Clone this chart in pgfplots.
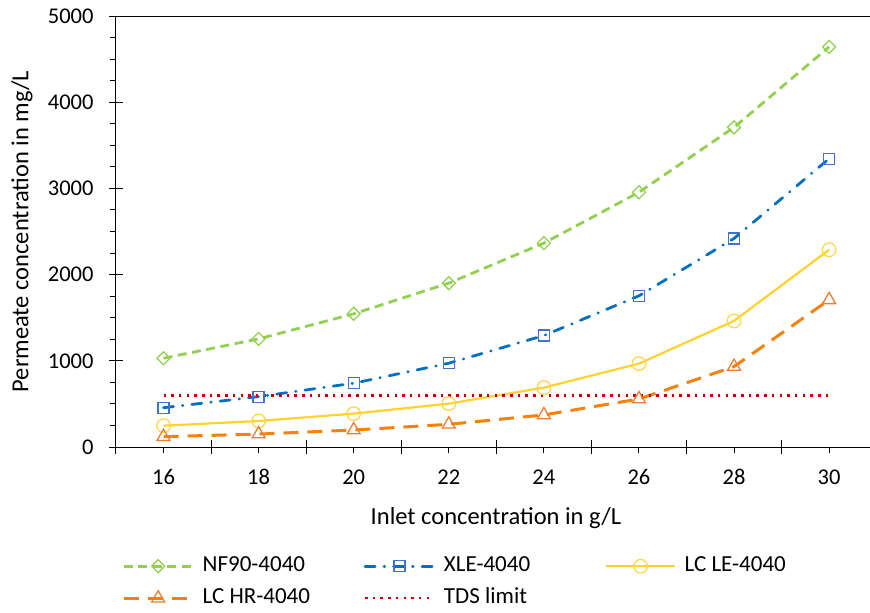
\documentclass[border=0pt]{standalone}
\usepackage{fontspec}
\setmainfont{Carlito}
\usepackage{pgfplots}
\pgfplotsset{compat=1.18}
\definecolor{cgreen}{RGB}{146,208,80}
\definecolor{cblue}{RGB}{0,112,192}
\definecolor{cbluem}{RGB}{68,114,196}
\definecolor{cyel}{RGB}{255,210,45}
\definecolor{cyelm}{RGB}{255,214,80}
\definecolor{corg}{RGB}{245,130,10}
\definecolor{corgm}{RGB}{237,125,49}
\definecolor{cred}{RGB}{192,0,0}
\begin{document}
\begin{tikzpicture}
\useasboundingbox (-116bp,-166bp) rectangle (754bp,447bp);
\begin{axis}[
  scale only axis, width=754bp, height=431bp,
  xmin=15, xmax=30.86, ymin=0, ymax=5000,
  separate axis lines,
  axis x line*=bottom, axis y line*=left,
  axis line style={-, black, line width=1bp},
  every outer x axis line/.append style={-},
  every outer y axis line/.append style={-},
  font=\fontsize{23bp}{27bp}\selectfont,
  tick label style={font=\fontsize{22.5bp}{26bp}\selectfont},
  label style={font=\fontsize{24.5bp}{29bp}\selectfont},
  /pgf/number format/assume math mode=true,
  /pgf/number format/1000 sep={},
  tick align=center,
  major tick length=14bp, minor tick length=6bp,
  tick style={black, line width=1bp},
  ytick={0,1000,...,5000},
  minor y tick num=3,
  minor y tick style={xshift=-3bp},
  yticklabel style={xshift=-12bp},
  xtick={15,17,...,29},
  xticklabels={},
  minor xtick={16,18,...,30},
  minor x tick style={yshift=-3bp},
  extra x ticks={16,18,...,30},
  extra x tick labels={16,18,20,22,24,26,28,30},
  extra x tick style={major tick length=0pt, xticklabel style={yshift=-19bp}},
  xlabel={Inlet concentration in g/L},
  ylabel={Permeate concentration in mg/L},
  xlabel style={at={(axis description cs:0.504,0)}, anchor=center, yshift=-71bp},
  ylabel style={at={(axis description cs:-0.1247,0.5)}, anchor=center},
  clip=false,
  legend columns=3,
  legend style={at={(axis description cs:0,0)}, anchor=north west, xshift=6bp, yshift=-109bp,
    draw=none, fill=none, inner sep=0pt,
    nodes={inner sep=0pt, text height=15bp, text depth=5bp, anchor=west},
    row sep=12bp,
    /tikz/every odd column/.append style={column sep=8.5bp},
    font=\fontsize{23bp}{27bp}\selectfont},
  legend image code/.code={\draw[#1, mark repeat=2, mark phase=2] plot coordinates {(0bp,0bp)(34.5bp,0bp)(69bp,0bp)};},
]
\addplot[cgreen, line width=2.8bp, dash pattern=on 9bp off 5.5bp, mark=square, mark size=4.6bp,
  mark options={solid, rotate=45, draw=cgreen, fill=white, line width=1.3bp}]
  coordinates {(16,1030)(18,1254)(20,1545)(22,1901)(24,2365)(26,2955)(28,3708)(30,4642)};
\addlegendentry{\makebox[161bp][l]{NF90-4040}}
\addplot[cblue, line width=2.8bp, line cap=round, dash pattern=on 10bp off 9bp on 0.5bp off 9bp, mark=square, mark size=5.5bp,
  mark options={solid, draw=cbluem, fill=white, line width=1.3bp}]
  coordinates {(16,456)(18,584)(20,740)(22,972)(24,1293)(26,1754)(28,2419)(30,3345)};
\addlegendentry{\makebox[161bp][l]{XLE-4040}}
\addplot[cyel, line width=2.2bp, mark=o, mark size=6.8bp,
  mark options={solid, draw=cyelm, fill=white, line width=1.3bp}]
  coordinates {(16,247)(18,302)(20,387)(22,503)(24,689)(26,967)(28,1463)(30,2288)};
\addlegendentry{\makebox[161bp][l]{LC LE-4040}}
\addplot[corg, line width=3bp, dash pattern=on 15bp off 9bp, mark=triangle, mark size=7.5bp,
  mark options={solid, draw=corgm, fill=white, line width=1.3bp}]
  coordinates {(16,120)(18,150)(20,197)(22,263)(24,372)(26,557)(28,933)(30,1707)};
\addlegendentry{\makebox[161bp][l]{LC HR-4040}}
\addplot[cred, line width=2.5bp, dash pattern=on 2.5bp off 5.2bp]
  coordinates {(16,600)(30,600)};
\addlegendentry{\makebox[161bp][l]{TDS limit}}
\draw[black, line width=1bp] (rel axis cs:0,1) -- (rel axis cs:1,1);
\end{axis}
\end{tikzpicture}
\end{document}
